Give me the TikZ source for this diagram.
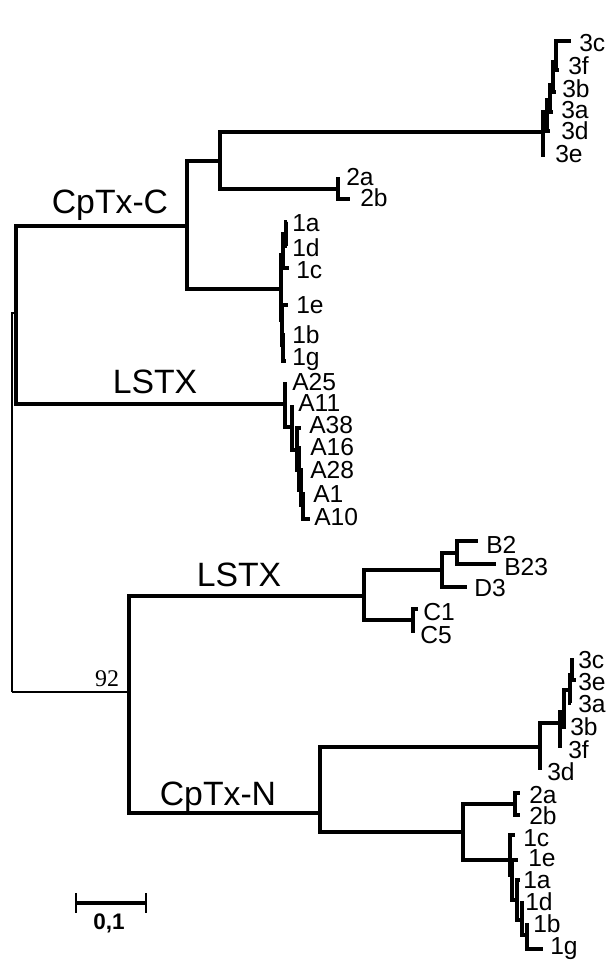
\documentclass[tikz,border=0pt]{standalone}
\usepackage{fontspec}
\setmainfont{Liberation Sans}
\newfontfamily\bootfont{Liberation Serif}

\begin{document}
\begin{tikzpicture}[
        x=0.025cm, y=-0.025cm,
        branch/.style={line width=2.4pt},
        every node/.style={inner sep=0pt},
        leaf/.style={anchor=west, text height=12.5pt, text depth=0pt,
            font=\fontsize{17.5}{20}\selectfont},
        clade/.style={font=\fontsize{24}{27}\selectfont}
    ]

        \useasboundingbox (0,0) rectangle (606,962);

        % Nodi interni
        \coordinate (root) at (12,692);
        \coordinate (up) at (16,313);
        \coordinate (lo) at (129,692);
        \coordinate (cC) at (187,226);
        \coordinate (c3) at (220,161);
        \coordinate (c2) at (338,189);
        \coordinate (c1) at (281,289);
        \coordinate (n3) at (543,132);
        \coordinate (s1) at (547,112);
        \coordinate (s2) at (550,100);
        \coordinate (s3) at (553,85);
        \coordinate (s4) at (556,62);
        \coordinate (u1) at (283,255);
        \coordinate (v1) at (286,234);
        \coordinate (u2) at (282,320);
        \coordinate (w1) at (283,345);
        \coordinate (lA) at (285,404);
        \coordinate (a1) at (292,427);
        \coordinate (a2) at (297,450);
        \coordinate (a3) at (299,470);
        \coordinate (a4) at (301,490);
        \coordinate (a5) at (303,505);
        \coordinate (lL) at (364,596);
        \coordinate (m1) at (442,570);
        \coordinate (m2) at (457,553);
        \coordinate (mC) at (413,620);
        \coordinate (lN) at (320,813);
        \coordinate (k3) at (540,747);
        \coordinate (p1) at (560,723);
        \coordinate (p2) at (564,712);
        \coordinate (p3) at (570,690);
        \coordinate (p4) at (572,675);
        \coordinate (k12) at (463,832);
        \coordinate (k2) at (515,804);
        \coordinate (k1) at (510,860);
        \coordinate (q1) at (512,875);
        \coordinate (q2) at (517,900);
        \coordinate (q3) at (522,920);
        \coordinate (q4) at (527,935);

        % Foglie
        \coordinate (t3c) at (571,41);
        \coordinate (t3f) at (559,70);
        \coordinate (t3b) at (556,92);
        \coordinate (t3a) at (553,112);
        \coordinate (t3d) at (550,131);
        \coordinate (t3e) at (543,157);
        \coordinate (t2a) at (338,177);
        \coordinate (t2b) at (350,199);
        \coordinate (t1a) at (287,222);
        \coordinate (t1d) at (287,246);
        \coordinate (t1c) at (289,268);
        \coordinate (t1e) at (288,305);
        \coordinate (t1b) at (285,335);
        \coordinate (t1g) at (286,361);
        \coordinate (tA25) at (285,382);
        \coordinate (tA11) at (292,405);
        \coordinate (tA38) at (301,428);
        \coordinate (tA16) at (301,448);
        \coordinate (tA28) at (303,470);
        \coordinate (tA1) at (305,494);
        \coordinate (tA10) at (310,519);
        \coordinate (tB2) at (478,541);
        \coordinate (tB23) at (496,564);
        \coordinate (tD3) at (467,587);
        \coordinate (tC1) at (418,609);
        \coordinate (tC5) at (413,633);
        \coordinate (n3c) at (574,660);
        \coordinate (n3e) at (576,680);
        \coordinate (n3a) at (571,703);
        \coordinate (n3b) at (566,727);
        \coordinate (n3f) at (560,748);
        \coordinate (n3d) at (540,770);
        \coordinate (n2a) at (520,793);
        \coordinate (n2b) at (520,815);
        \coordinate (n1c) at (515,835);
        \coordinate (n1e) at (518,860);
        \coordinate (n1a) at (520,880);
        \coordinate (n1d) at (524,903);
        \coordinate (n1b) at (529,925);
        \coordinate (n1g) at (543,949);

        % Radice
        \draw[line width=1.6pt] (root) |- (up) (root) -- (lo);

        % CpTx-C
        \draw[branch] (up) |- (cC) (up) |- (lA);
        \draw[branch] (cC) |- (c3) (cC) |- (c1);
        \draw[branch] (c3) |- (n3) (c3) |- (c2);
        \draw[branch] (c2) |- (t2a) (c2) |- (t2b);
        \draw[branch] (n3) |- (s1) (n3) |- (t3e);
        \draw[branch] (s1) |- (t3d) (s1) |- (s2);
        \draw[branch] (s2) |- (t3a) (s2) |- (s3);
        \draw[branch] (s3) |- (t3b) (s3) |- (s4);
        \draw[branch] (s4) |- (t3c) (s4) |- (t3f);
        \draw[branch] (c1) |- (u1) (c1) |- (u2);
        \draw[branch] (u1) |- (v1) (u1) |- (t1c);
        \draw[branch] (v1) |- (t1a) (v1) |- (t1d);
        \draw[branch] (u2) |- (t1e) (u2) |- (w1);
        \draw[branch] (w1) |- (t1b) (w1) |- (t1g);

        % LSTX (A)
        \draw[branch] (lA) |- (tA25) (lA) |- (a1);
        \draw[branch] (a1) |- (tA11) (a1) |- (a2);
        \draw[branch] (a2) |- (tA38) (a2) |- (a3);
        \draw[branch] (a3) |- (tA16) (a3) |- (a4);
        \draw[branch] (a4) |- (tA28) (a4) |- (a5);
        \draw[branch] (a5) |- (tA1) (a5) |- (tA10);

        % LSTX (B, C, D)
        \draw[branch] (lo) |- (lL) (lo) |- (lN);
        \draw[branch] (lL) |- (m1) (lL) |- (mC);
        \draw[branch] (m1) |- (m2) (m1) |- (tD3);
        \draw[branch] (m2) |- (tB2) (m2) |- (tB23);
        \draw[branch] (mC) |- (tC1) (mC) |- (tC5);

        % CpTx-N
        \draw[branch] (lN) |- (k3) (lN) |- (k12);
        \draw[branch] (k3) |- (n3d) (k3) |- (p1);
        \draw[branch] (p1) |- (n3f) (p1) |- (p2);
        \draw[branch] (p2) |- (n3b) (p2) |- (p3);
        \draw[branch] (p3) |- (n3a) (p3) |- (p4);
        \draw[branch] (p4) |- (n3c) (p4) |- (n3e);
        \draw[branch] (k12) |- (k2) (k12) |- (k1);
        \draw[branch] (k2) |- (n2a) (k2) |- (n2b);
        \draw[branch] (k1) |- (n1c) (k1) |- (q1);
        \draw[branch] (q1) |- (n1e) (q1) |- (q2);
        \draw[branch] (q2) |- (n1a) (q2) |- (q3);
        \draw[branch] (q3) |- (n1d) (q3) |- (q4);
        \draw[branch] (q4) |- (n1b) (q4) |- (n1g);

        % Etichette delle foglie
        \node[leaf] (l3c) at (579,43) {3c};
        \node[leaf] (l3f) at (568,66) {3f};
        \node[leaf] (l3b) at (562,89) {3b};
        \node[leaf] (l3a) at (561,110) {3a};
        \node[leaf] (l3d) at (561,131) {3d};
        \node[leaf] (l3e) at (555,154) {3e};
        \node[leaf] (l2a) at (346,177) {2a};
        \node[leaf] (l2b) at (360,198) {2b};
        \node[leaf] (l1a) at (292,223) {1a};
        \node[leaf] (l1d) at (292,248) {1d};
        \node[leaf] (l1c) at (296,270) {1c};
        \node[leaf] (l1e) at (296,305) {1e};
        \node[leaf] (l1b) at (292,335) {1b};
        \node[leaf] (l1g) at (292,357) {1g};
        \node[leaf] (lA25) at (292,382) {A25};
        \node[leaf] (lA11) at (298,403) {A11};
        \node[leaf] (lA38) at (309,425) {A38};
        \node[leaf] (lA16) at (310,447) {A16};
        \node[leaf] (lA28) at (310,470) {A28};
        \node[leaf] (lA1) at (313,494) {A1};
        \node[leaf] (lA10) at (314,517) {A10};
        \node[leaf] (lB2) at (486,545) {B2};
        \node[leaf] (lB23) at (504,567) {B23};
        \node[leaf] (lD3) at (474,588) {D3};
        \node[leaf] (lC1) at (423,612) {C1};
        \node[leaf] (lC5) at (420,635) {C5};
        \node[leaf] (m3c) at (578,660) {3c};
        \node[leaf] (m3e) at (578,682) {3e};
        \node[leaf] (m3a) at (578,704) {3a};
        \node[leaf] (m3b) at (570,727) {3b};
        \node[leaf] (m3f) at (568,750) {3f};
        \node[leaf] (m3d) at (547,772) {3d};
        \node[leaf] (m2a) at (529,795) {2a};
        \node[leaf] (m2b) at (529,816) {2b};
        \node[leaf] (m1c) at (523,838) {1c};
        \node[leaf] (m1e) at (528,858) {1e};
        \node[leaf] (m1a) at (523,880) {1a};
        \node[leaf] (m1d) at (525,902) {1d};
        \node[leaf] (m1b) at (533,924) {1b};
        \node[leaf] (m1g) at (550,946) {1g};

        % Cladi
        \node[clade] (cpc) at (110,205) {CpTx-C};
        \node[clade] (ls1) at (155,382) {LSTX};
        \node[clade] (ls2) at (239,575) {LSTX};
        \node[clade] (cpn) at (218,797) {CpTx-N};

        % Bootstrap
        \node[font=\bootfont\fontsize{17}{19}\selectfont] (bs) at (107,679) {92};

        % Scala
        \coordinate (sa) at (76,903);
        \coordinate (sb) at (146,903);
        \draw[line width=2.2pt] (sa) -- (sb);
        \draw[line width=2pt] ([yshift=7]sa) -- ([yshift=-7]sa);
        \draw[line width=2pt] ([yshift=7]sb) -- ([yshift=-7]sb);
        \node[font=\bfseries\fontsize{16}{18}\selectfont] (sc) at (109,923) {0,1};

    \end{tikzpicture}
\end{document}
